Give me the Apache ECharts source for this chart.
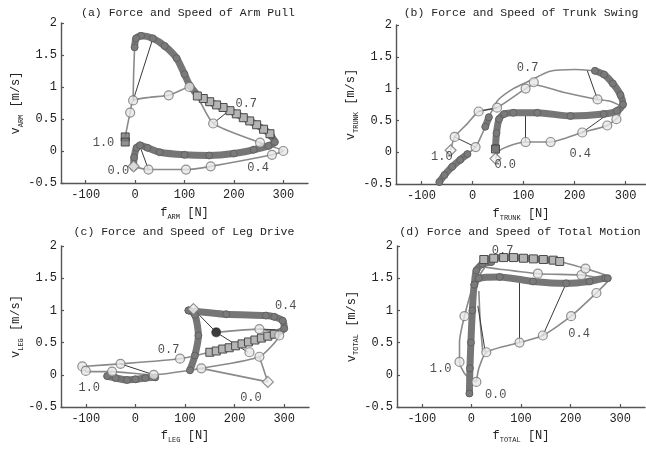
<!DOCTYPE html>
<html><head><meta charset="utf-8">
<script src="https://cdn.jsdelivr.net/npm/echarts@6/dist/echarts.min.js"></script>
<style>html,body{margin:0;padding:0;background:#fff}#c{width:646px;height:450px}</style>
</head><body><div id="c"></div>
<script>
const FONT = '"Liberation Mono","DejaVu Sans Mono",monospace';
const panelTitles = ['(a) Force and Speed of Arm Pull','(b) Force and Speed of Trunk Swing','(c) Force and Speed of Leg Drive','(d) Force and Speed of Total Motion'];
const subNames = ['ARM','TRUNK','LEG','TOTAL'];
const xTickValues = [-100,0,100,200,300];
const yTickValues = [-0.5,0,0.5,1,1.5,2];
const timeLabels = ['0.0','0.4','0.7','1.0'];

// ---- (a) Arm Pull ----
const aThick = [
 [[-3,-0.25],[-2,-0.1],[3,0.05],[10,0.09],[25,0.05],[50,-0.02],[100,-0.06],[150,-0.07],[200,-0.04],[240,0.02],[270,0.08],[283,0.14],[275,0.24]],
 [[128,0.86],[111,1.02],[100,1.2],[84,1.45],[60,1.64],[36,1.76],[12,1.8],[2,1.76],[-1,1.62]]
];
const aBand = [[273,0.27],[260,0.34],[246,0.41],[232,0.47],[219,0.52],[205,0.58],[192,0.63],[178,0.68],[165,0.72],[151,0.77],[138,0.82],[126,0.86]];
const aThin = [
 [[-3,-0.24],[27,-0.29],[103,-0.29],[153,-0.24],[277,-0.06],[300,0.0],[253,0.13],[158,0.43],[110,1.0],[68,0.87],[30,0.84],[-4,0.79],[-10,0.6],[-16,0.38],[-20,0.22]],
 [[-1,1.62],[-3,1.2],[-4,0.79]]
];
const aCircles = [[27,-0.29],[103,-0.29],[153,-0.24],[277,-0.06],[300,0.0],[253,0.13],[158,0.43],[110,1.0],[68,0.87],[-4,0.79],[-10,0.6]];
const aDiamonds = [[-3,-0.24]];
const aEndSquares = [[-20,0.22],[-20,0.14]];
const aDark = [];
const aLinks = [[[-4,0.79],[36,1.76]],[[158,0.43],[190,0.63]],[[27,-0.29],[10,0.07]],[[253,0.13],[265,0.02]]];
const aTime = [[-34,-0.31],[249,-0.26],[225,0.73],[-64,0.12]];

// ---- (b) Trunk Swing ----
const bThick = [
 [[45,0.06],[47,0.3],[52,0.52],[62,0.6],[80,0.62],[127,0.62],[192,0.57],[257,0.6],[283,0.65],[295,0.75],[290,0.9],[275,1.08],[258,1.22],[240,1.28]],
 [[-65,-0.47],[-55,-0.36],[-40,-0.23],[-24,-0.12],[-10,-0.03]],
 [[25,0.4],[32,0.55]]
];
const bBand = [];
const bThin = [
 [[240,1.28],[200,1.3],[150,1.27],[114,1.13],[80,1.0],[50,0.82],[35,0.6],[25,0.4],[15,0.22],[6,0.08],[-10,-0.03]],
 [[45,-0.1],[52,0.02],[80,0.12],[104,0.16],[153,0.16],[215,0.31],[264,0.42],[285,0.55],[293,0.7],[270,0.8],[245,0.83],[180,0.94],[120,1.06],[104,1.0],[48,0.70],[12,0.64],[-10,0.45],[-35,0.24],[-43,0.03]]
];
const bCircles = [[104,0.16],[153,0.16],[215,0.31],[264,0.42],[282,0.52],[245,0.83],[120,1.1],[104,1.0],[48,0.70],[12,0.64],[-35,0.24],[6,0.08]];
const bDiamonds = [[45,-0.1],[-43,0.03]];
const bEndSquares = [[45,0.05]];
const bDark = [];
const bLinks = [[[104,0.16],[104,0.62]],[[215,0.31],[262,0.58]],[[245,0.83],[225,1.28]],[[-35,0.24],[6,0.08]],[[12,0.64],[48,0.70]]];
const bTime = [[64,-0.2],[211,-0.02],[108,1.32],[-60,-0.07]];

// ---- (c) Leg Drive ----
const cThick = [
 [[283,0.64],[300,0.72],[297,0.84],[280,0.9],[263,0.92],[183,0.94],[107,1.0]],
 [[107,1.0],[120,0.93],[127,0.61],[120,0.3],[110,0.07]],
 [[40,-0.04],[20,-0.05],[0,-0.07],[-17,-0.08],[-40,-0.05],[-57,-0.02]]
];
const cBand = [[150,0.35],[163,0.37],[176,0.4],[189,0.42],[202,0.45],[215,0.48],[228,0.51],[241,0.54],[254,0.57],[267,0.6],[280,0.63]];
const cThin = [
 [[-107,0.13],[-30,0.17],[90,0.25],[150,0.35]],
 [[-100,0.05],[-47,0.05],[37,0.0],[110,0.07],[133,0.1],[250,0.28],[290,0.61],[250,0.71],[163,0.66]],
 [[133,0.1],[267,-0.11],[250,0.28]],
 [[-107,0.13],[-100,0.05]]
];
const cCircles = [[-107,0.13],[-100,0.06],[-30,0.17],[-47,0.05],[37,0.0],[90,0.25],[133,0.1],[250,0.28],[230,0.35],[290,0.61],[250,0.71],[163,0.66]];
const cDiamonds = [[117,1.02],[267,-0.11]];
const cEndSquares = [];
const cDark = [[163,0.66]];
const cLinks = [[[-30,0.17],[37,0.0]],[[163,0.66],[117,1.02]],[[163,0.66],[227,0.35]],[[250,0.71],[283,0.7]]];
const cTime = [[233,-0.36],[303,1.07],[67,0.38],[-93,-0.21]];

// ---- (d) Total Motion ----
const dThick = [
 [[-4,-0.29],[-3,0.1],[-1,0.5],[2,1.0],[6,1.4],[15,1.5],[57,1.52],[124,1.45],[191,1.42],[238,1.45],[270,1.5],[275,1.5]],
 [[6,1.4],[10,1.62],[22,1.72],[40,1.75]]
];
const dBand = [[25,1.79],[45,1.81],[65,1.82],[85,1.82],[105,1.81],[125,1.8],[145,1.79],[165,1.78],[178,1.76]];
const dThin = [
 [[178,1.76],[230,1.65],[270,1.55]],
 [[22,1.68],[57,1.64],[134,1.57],[222,1.55],[262,1.5]],
 [[275,1.45],[252,1.27],[201,0.91],[144,0.61],[97,0.50],[30,0.35],[15,0.1],[10,-0.11]],
 [[30,1.7],[5,1.4],[-14,0.91],[-24,0.5],[-24,0.2],[-12,0.0],[10,-0.11]],
 [[15,1.3],[18,0.8],[23,0.35]]
];
const dCircles = [[134,1.57],[222,1.55],[252,1.27],[201,0.91],[144,0.61],[97,0.50],[30,0.35],[10,-0.11],[-14,0.91],[-24,0.2],[230,1.65]];
const dDiamonds = [];
const dEndSquares = [];
const dDark = [];
const dLinks = [[[97,1.44],[97,0.5]],[[191,1.42],[144,0.61]],[[13,1.07],[28,0.35]]];
const dTime = [[49,-0.31],[217,0.63],[63,1.93],[-62,0.1]];

const panels = [
 {thick:aThick, band:aBand, thin:aThin, circles:aCircles, diamonds:aDiamonds, ends:aEndSquares, dark:aDark, links:aLinks, time:aTime},
 {thick:bThick, band:bBand, thin:bThin, circles:bCircles, diamonds:bDiamonds, ends:bEndSquares, dark:bDark, links:bLinks, time:bTime},
 {thick:cThick, band:cBand, thin:cThin, circles:cCircles, diamonds:cDiamonds, ends:cEndSquares, dark:cDark, links:cLinks, time:cTime},
 {thick:dThick, band:dBand, thin:dThin, circles:dCircles, diamonds:dDiamonds, ends:dEndSquares, dark:dDark, links:dLinks, time:dTime}
];

// layout
const grids = [
 {left:61, top:23, width:247, height:160},
 {left:396, top:25, width:250, height:159},
 {left:61, top:246, width:248, height:161},
 {left:397, top:246, width:248, height:161}
];
const xMax = [350,340,350,350];
const titlePos = [[188,13],[521,13],[184,232],[520,232]];
const yNameGap = [31,35,31,37];
const xNameGap = [22,22,21,21];

const TXT = '#222';
const AX = '#555';
const rich = {
  m:{fontFamily:FONT, fontSize:12, color:TXT, lineHeight:16},
  s:{fontFamily:FONT, fontSize:7, color:TXT, lineHeight:8, verticalAlign:'bottom'}
};

const xAxes = [], yAxes = [], series = [];
grids.forEach((g,i)=>{
  xAxes.push({type:'value', gridIndex:i, min:-150, max:xMax[i],
    axisLine:{onZero:false, lineStyle:{color:AX, width:1.4}},
    axisTick:{inside:true, length:3, lineStyle:{color:AX, width:1.2}},
    splitLine:{show:false},
    axisLabel:{showMinLabel:false, showMaxLabel:false, margin:6, fontFamily:FONT, fontSize:12, color:TXT,
      formatter:v=>xTickValues.includes(Math.round(v))?String(Math.round(v)):''},
    name:'{m|f}{s|'+subNames[i]+'}{m| [N]}', nameLocation:'middle', nameGap:xNameGap[i],
    nameTextStyle:{rich}
  });
  yAxes.push({type:'value', gridIndex:i, min:-0.5, max:2, interval:0.5,
    axisLine:{onZero:false, lineStyle:{color:AX, width:1.4}},
    axisTick:{inside:true, length:3, lineStyle:{color:AX, width:1.2}},
    splitLine:{show:false},
    axisLabel:{margin:4, fontFamily:FONT, fontSize:12, color:TXT,
      formatter:v=>{const r=Math.round(v*10)/10; return yTickValues.includes(r)?String(r):'';}},
    name:'{m|v}{s|'+subNames[i]+'}{m| [m/s]}', nameLocation:'middle', nameGap:yNameGap[i], nameRotate:90,
    nameTextStyle:{rich}
  });
  const p = panels[i];
  const ax = {xAxisIndex:i, yAxisIndex:i};
  p.thin.forEach(seg=>series.push(Object.assign({type:'line', data:seg, symbol:'none', smooth:0.2,
    lineStyle:{color:'#8a8a8a', width:1.6}, z:2, silent:true}, ax)));
  series.push(Object.assign({type:'lines', coordinateSystem:'cartesian2d', data:p.links.map(l=>({coords:l})),
    lineStyle:{color:'#3a3a3a', width:1, opacity:1}, z:3, silent:true}, ax));
  p.thick.forEach(seg=>series.push(Object.assign({type:'line', data:seg, smooth:0.25, symbol:'circle', symbolSize:7, showAllSymbol:true,
    itemStyle:{color:'#7a7a7a', borderColor:'#5a5a5a', borderWidth:0.8}, lineStyle:{color:'#767676', width:7, cap:'round', join:'round'}, z:4, silent:true}, ax)));
  if (p.band.length) series.push(Object.assign({type:'line', data:p.band, smooth:0.2, symbol:'rect', symbolSize:8, showAllSymbol:true,
    itemStyle:{color:'#b5b5b5', borderColor:'#4a4a4a', borderWidth:1}, lineStyle:{color:'#6e6e6e', width:7}, z:5, silent:true}, ax));
  series.push(Object.assign({type:'scatter', data:p.circles, symbol:'circle', symbolSize:9,
    itemStyle:{color:'#e6e6e6', borderColor:'#777', borderWidth:1.2}, z:6, silent:true}, ax));
  series.push(Object.assign({type:'scatter', data:p.diamonds, symbol:'diamond', symbolSize:11,
    itemStyle:{color:'#f2f2f2', borderColor:'#777', borderWidth:1.2}, z:6, silent:true}, ax));
  series.push(Object.assign({type:'scatter', data:p.ends, symbol:'rect', symbolSize:8,
    itemStyle:{color:'#777', borderColor:'#333', borderWidth:1}, z:7, silent:true}, ax));
  series.push(Object.assign({type:'scatter', data:p.dark, symbol:'circle', symbolSize:9,
    itemStyle:{color:'#111'}, z:7, silent:true}, ax));
  series.push(Object.assign({type:'scatter', data:p.time.map((c,k)=>({name:timeLabels[k], value:c})), symbolSize:1,
    itemStyle:{color:'rgba(0,0,0,0)'}, label:{show:true, position:'inside', formatter:q=>q.name, fontFamily:FONT, fontSize:12, color:TXT},
    z:8, silent:true}, ax));
});

const graphic = panelTitles.map((t,i)=>({type:'text', x:titlePos[i][0], y:titlePos[i][1], z:10,
  style:{text:t, font:'11.5px '+FONT, fill:TXT, textAlign:'center', textVerticalAlign:'middle'}}));

const chart = echarts.init(document.getElementById('c'), null, {renderer:'canvas'});
chart.setOption({animation:false, backgroundColor:'#fff', grid:grids, xAxis:xAxes, yAxis:yAxes, series, graphic});
</script></body></html>
